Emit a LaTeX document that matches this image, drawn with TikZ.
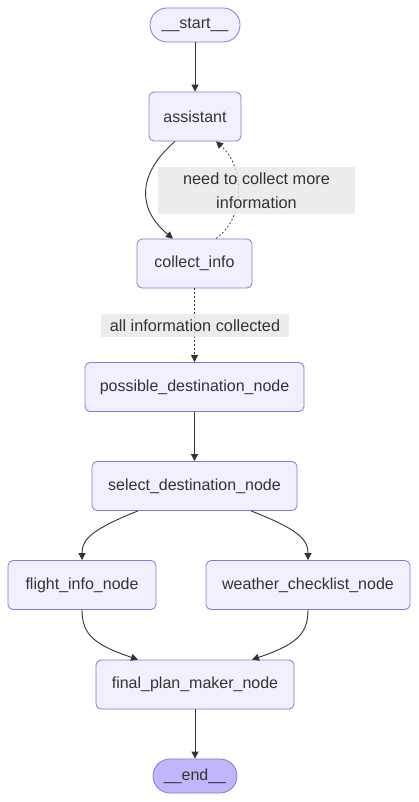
\documentclass[tikz,border=0pt]{standalone}
\usepackage{fontspec}
\setmainfont{Liberation Sans}
\usetikzlibrary{arrows.meta}
\definecolor{nodefill}{HTML}{F2F0FF}
\definecolor{nodeline}{HTML}{9370DB}
\definecolor{endfill}{HTML}{BFB6FC}
\definecolor{ink}{HTML}{333333}
\definecolor{lblfill}{HTML}{E8E8E8}
\begin{document}
\begin{tikzpicture}[x=1pt,y=-1pt,
  box/.style={draw=nodeline, fill=nodefill, rounded corners=5pt, line width=0.8pt,
    minimum height=49pt, inner sep=0pt, text=ink, font=\fontsize{16}{19}\selectfont},
  term/.style={box, rounded corners=17pt, minimum height=34pt},
  edge/.style={draw=ink, line width=0.9pt, -{Triangle[length=7pt,width=7pt]}},
  dotedge/.style={edge, line width=0.7pt, dash pattern=on 2pt off 2pt},
  lbl/.style={fill=lblfill, fill opacity=0.8, text opacity=1, inner sep=0pt, text=ink,
    font=\fontsize{16.3}{24}\selectfont, align=center}
]
\useasboundingbox (0,0) rectangle (418,802);
\fill[white] (0,0) rectangle (418,802);

\node[term, minimum width=90pt] (start) at (195,25) {\_\_start\_\_};
\node[box, minimum width=92pt] (assistant) at (195,116.5) {assistant};
\node[box, minimum width=115pt] (collect) at (194.5,263.5) {collect\_info};
\node[box, minimum width=219pt] (possible) at (194.5,387) {possible\_destination\_node};
\node[box, minimum width=205pt] (select) at (194.5,486) {select\_destination\_node};
\node[box, minimum width=148pt] (flight) at (82,585) {flight\_info\_node};
\node[box, minimum width=204pt] (weather) at (308,585) {weather\_checklist\_node};
\node[box, minimum width=198pt] (final) at (195,684.5) {final\_plan\_maker\_node};
\node[term, fill=endfill, minimum width=84pt] (end) at (195,776) {\_\_end\_\_};

\draw[edge] ([xshift=0pt]start.south) -- (assistant.north);
\draw[edge] ([xshift=-20pt]assistant.south) .. controls (136,175) and (138,210) .. ([xshift=-21.5pt]collect.north);
\draw[dotedge] ([xshift=21.5pt]collect.north) .. controls (248,215) and (243,165) .. ([xshift=21pt]assistant.south);
\draw[dotedge] (collect) -- (possible);
\draw[edge] (possible) -- (select);
\draw[edge] ([xshift=-56.5pt]select.south) .. controls (90,530) and (82,540) .. (flight.north);
\draw[edge] ([xshift=56.5pt]select.south) .. controls (300,530) and (308,540) .. (weather.north);
\draw[edge] (flight.south) .. controls (82,635) and (95,645) .. ([xshift=-57pt]final.north);
\draw[edge] (weather.south) .. controls (308,635) and (295,645) .. ([xshift=57pt]final.north);
\draw[edge] (final) -- (end);

\node[lbl, minimum width=197pt, minimum height=47pt] (l1) at (256.5,190.5) {need to collect more\\information};
\node[lbl, minimum width=188pt, minimum height=23pt] (l2) at (195,325.5) {all information collected};
\end{tikzpicture}
\end{document}
